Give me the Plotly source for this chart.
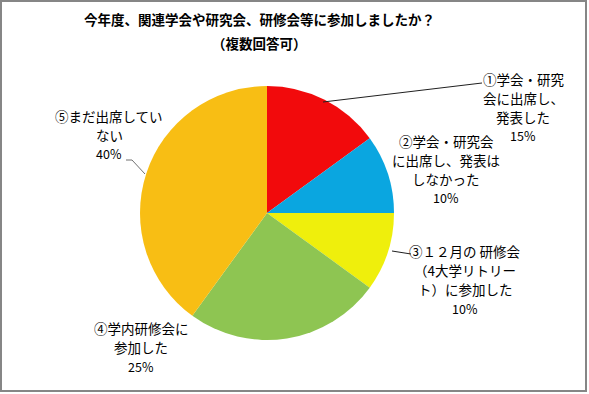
import plotly.graph_objects as go

W, H = 589, 394

# ---- data ----
categories = [
    "①学会・研究会に出席し、発表した",
    "②学会・研究会に出席し、発表はしなかった",
    "③１２月の 研修会（4大学リトリート）に参加した",
    "④学内研修会に参加した",
    "⑤まだ出席していない",
]
values = [15, 10, 10, 25, 40]
label_lines = [
    ["①学会・研究", "会に出席し、", "発表した"],
    ["②学会・研究会", "に出席し、発表は", "しなかった"],
    ["③１２月の 研修会", "（4大学リトリー", "ト）に参加した"],
    ["④学内研修会に", "参加した"],
    ["⑤まだ出席してい", "ない"],
]
colors = ["#F20A0C", "#0AA6E0", "#EFEF0C", "#8EC552", "#F8BE14"]
title_lines = ["今年度、関連学会や研究会、研修会等に参加しましたか？", "（複数回答可）"]

# ---- layout helpers (pixel -> paper) ----
def px(x):
    return x / W

def py(y):
    return 1 - y / H

cx, cy, r = 267, 213, 127

fig = go.Figure()
fig.add_trace(go.Pie(
    labels=categories,
    values=values,
    sort=False,
    direction="clockwise",
    rotation=0,
    marker=dict(colors=colors, line=dict(width=0)),
    textinfo="none",
    hoverinfo="label+percent",
    showlegend=False,
    domain=dict(x=[px(cx - r), px(cx + r)], y=[py(cy + r), py(cy - r)]),
))

FONT = "Noto Sans CJK JP"
annotations = []

# title
for i, t in enumerate(title_lines):
    annotations.append(dict(
        x=px(259), y=py(19 + i * 24), xref="paper", yref="paper",
        text=f"<b>{t}</b>", showarrow=False, xanchor="center", yanchor="middle",
        font=dict(family=FONT, size=13.5, color="#000000"),
    ))

# data labels: (center x, first line y)
label_pos = [(523, 79), (446, 141), (465, 251), (141, 328), (109, 116)]
total = sum(values)
LS = 19
for lines, v, (lx, ly) in zip(label_lines, values, label_pos):
    all_lines = lines + [f"{round(v / total * 100)}%"]
    for j, t in enumerate(all_lines):
        annotations.append(dict(
            x=px(lx), y=py(ly + j * LS), xref="paper", yref="paper",
            text=t, showarrow=False, xanchor="center", yanchor="middle",
            font=dict(family=FONT, size=13.5 if j < len(lines) else 12.5, color="#000000"),
        ))

shapes = [
    # leader lines
    dict(type="path", xref="paper", yref="paper",
         path=f"M {px(323)} {py(102)} L {px(482)} {py(83)}",
         line=dict(color="#202020", width=1)),
    dict(type="path", xref="paper", yref="paper",
         path=f"M {px(392)} {py(251)} L {px(411)} {py(254)}",
         line=dict(color="#202020", width=1)),
    dict(type="path", xref="paper", yref="paper",
         path=f"M {px(126)} {py(160)} L {px(132)} {py(160)} L {px(145)} {py(174)}",
         line=dict(color="#707070", width=1)),
    # outer border
    dict(type="rect", xref="paper", yref="paper",
         x0=px(1), y0=py(391), x1=px(586), y1=py(1),
         line=dict(color="#868686", width=2)),
]

fig.update_layout(
    width=W, height=H,
    margin=dict(l=0, r=0, t=0, b=0),
    paper_bgcolor="#FFFFFF",
    plot_bgcolor="#FFFFFF",
    annotations=annotations,
    shapes=shapes,
    font=dict(family=FONT),
)

fig.write_html("out.html", config={"displayModeBar": False},
               post_script="document.body.style.margin='0';")
